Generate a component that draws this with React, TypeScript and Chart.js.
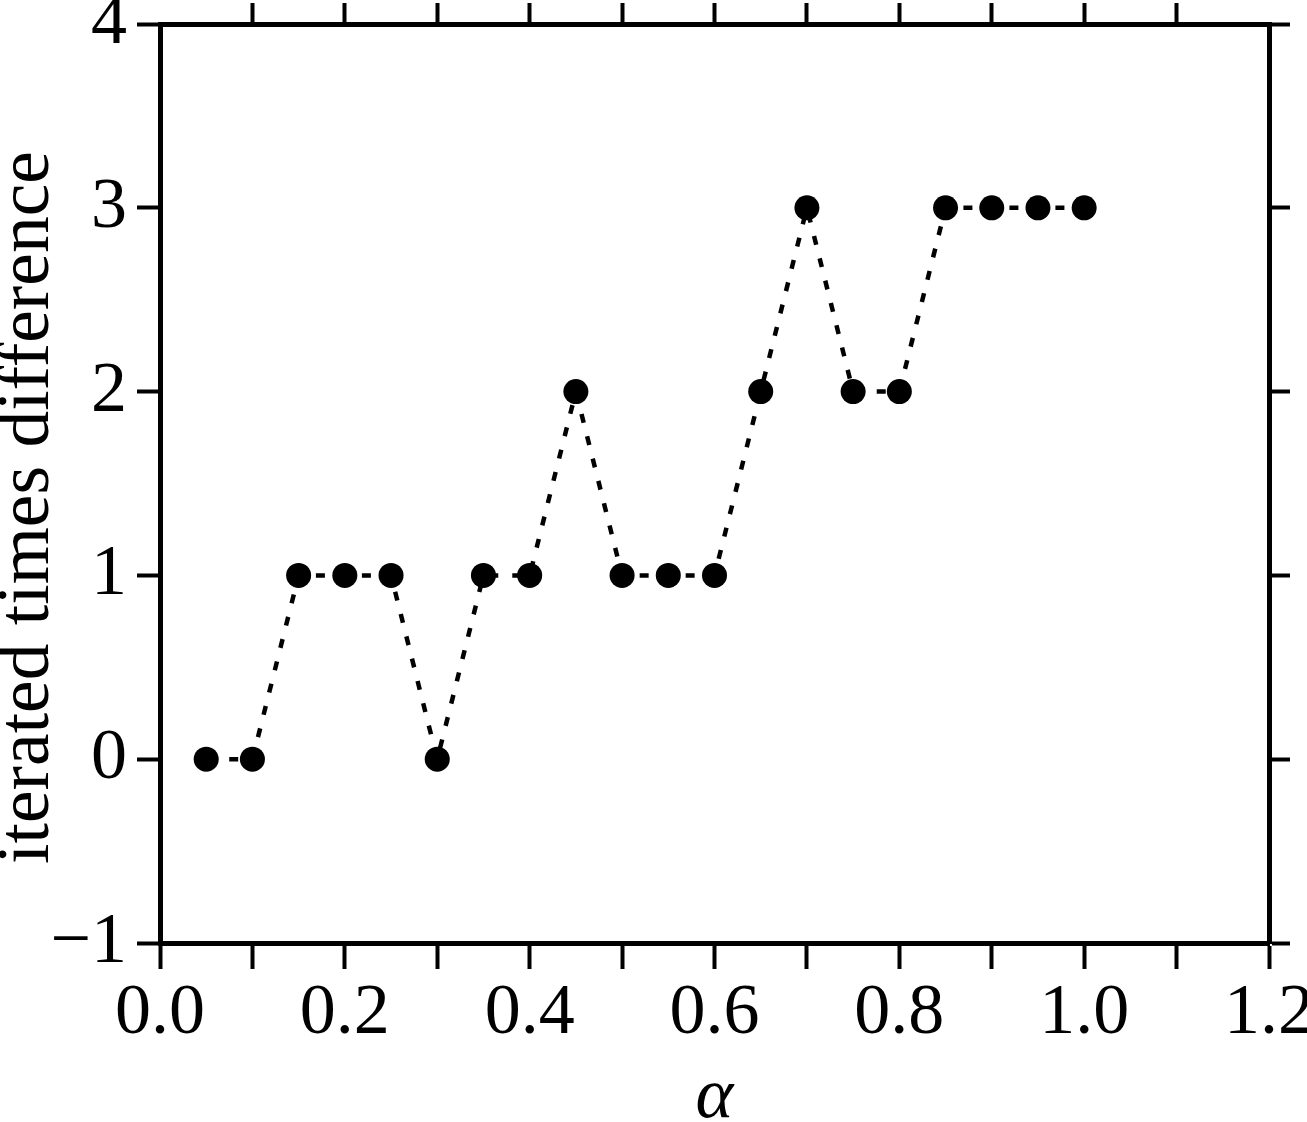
import React, { useEffect, useRef } from "react";
import { Chart, registerables } from "chart.js";

Chart.register(...registerables);

// ---- data ----
const alphaValues = [0.05, 0.1, 0.15, 0.2, 0.25, 0.3, 0.35, 0.4, 0.45, 0.5, 0.55, 0.6, 0.65, 0.7, 0.75, 0.8, 0.85, 0.9, 0.95, 1.0];
const diffValues = [0, 0, 1, 1, 1, 0, 1, 1, 2, 1, 1, 1, 2, 3, 2, 2, 3, 3, 3, 3];
const xAxisTitle = "α";
const yAxisTitle = "iterated times difference";
const xRange = [0, 1.2];
const yRange = [-1, 4];

const W = 1307;
const H = 1122;
const FONT = '"Liberation Serif", "Times New Roman", serif';

export default function App() {
  const ref = useRef<HTMLCanvasElement | null>(null);

  useEffect(() => {
    if (!ref.current) return;
    const points = alphaValues.map((a, i) => ({ x: a, y: diffValues[i] }));

    const yTitlePlugin = {
      id: "yTitlePlugin",
      afterDraw(chart: any) {
        const ctx = chart.ctx;
        ctx.save();
        ctx.translate(48, 507.5);
        ctx.rotate(-Math.PI / 2);
        ctx.font = `73.5px ${FONT}`;
        ctx.fillStyle = "#000";
        ctx.textAlign = "center";
        ctx.textBaseline = "alphabetic";
        ctx.fillText(yAxisTitle, 0, 0);
        ctx.restore();
      },
    };

    const commonGrid = (tl: number) => ({
      display: true,
      drawOnChartArea: false,
      drawTicks: true,
      tickLength: tl,
      tickWidth: 4,
      tickColor: "#000",
      color: "#000",
    });
    const border = { display: true, width: 5, color: "#000" };
    const fix = (w: number | null, h: number | null) => (s: any) => {
      if (w !== null) s.width = w;
      if (h !== null) s.height = h;
      s.paddingLeft = 0;
      s.paddingRight = 0;
      s.paddingTop = 0;
      s.paddingBottom = 0;
    };

    const chart = new Chart(ref.current, {
      type: "scatter",
      data: {
        datasets: [
          {
            data: points,
            showLine: true,
            borderColor: "#000",
            borderWidth: 4.5,
            borderDash: [9, 14],
            pointRadius: 12.5,
            pointHoverRadius: 12.5,
            pointBackgroundColor: "#000",
            pointBorderColor: "#000",
            pointBorderWidth: 0,
            tension: 0,
          },
        ],
      },
      options: {
        responsive: false,
        animation: false,
        devicePixelRatio: 1,
        layout: { padding: 0 },
        plugins: { legend: { display: false }, tooltip: { enabled: false } },
        scales: {
          x: {
            type: "linear",
            position: "bottom",
            min: xRange[0],
            max: xRange[1],
            grid: commonGrid(26),
            border,
            ticks: {
              stepSize: 0.1,
              autoSkip: false,
              maxRotation: 0,
              padding: 2,
              color: "#000",
              font: { family: FONT, size: 72 },
              callback: (v: any) => {
                const k = Math.round(Number(v) * 10);
                return k % 2 === 0 ? (k / 10).toFixed(1) : "";
              },
            },
            title: {
              display: true,
              text: xAxisTitle,
              color: "#000",
              padding: 0,
              font: { family: FONT, size: 72, style: "italic", lineHeight: 0.66 },
            },
            afterFit: fix(null, H - 943),
          },
          y: {
            type: "linear",
            position: "left",
            min: yRange[0],
            max: yRange[1],
            grid: commonGrid(23),
            border,
            ticks: {
              stepSize: 1,
              autoSkip: false,
              padding: 10,
              color: "#000",
              font: { family: FONT, size: 72 },
              callback: (v: any) => {
                const n = Math.round(Number(v));
                return n < 0 ? "\u2212" + Math.abs(n) : String(n);
              },
            },
            afterFit: fix(160, null),
          },
          x2: {
            type: "linear",
            axis: "x",
            position: "top",
            min: xRange[0],
            max: xRange[1],
            grid: {
              ...commonGrid(21),
              tickColor: (ctx: any) => {
                const k = Math.round(Number(ctx.tick?.value) * 10);
                return k === 0 || k === 12 ? "rgba(0,0,0,0)" : "#000";
              },
            },
            border,
            ticks: { display: false, stepSize: 0.1, autoSkip: false },
            afterFit: fix(null, 24),
          },
          y2: {
            type: "linear",
            axis: "y",
            position: "right",
            min: yRange[0],
            max: yRange[1],
            grid: commonGrid(21),
            border,
            ticks: { display: false, stepSize: 1, autoSkip: false },
            afterFit: fix(W - 1269, null),
          },
        },
      } as any,
      plugins: [yTitlePlugin],
    });

    return () => chart.destroy();
  }, []);

  return (
    <div style={{ position: "absolute", left: 0, top: 0, width: W, height: H, background: "#fff" }}>
      <canvas ref={ref} width={W} height={H} style={{ display: "block", width: W, height: H }} />
    </div>
  );
}
